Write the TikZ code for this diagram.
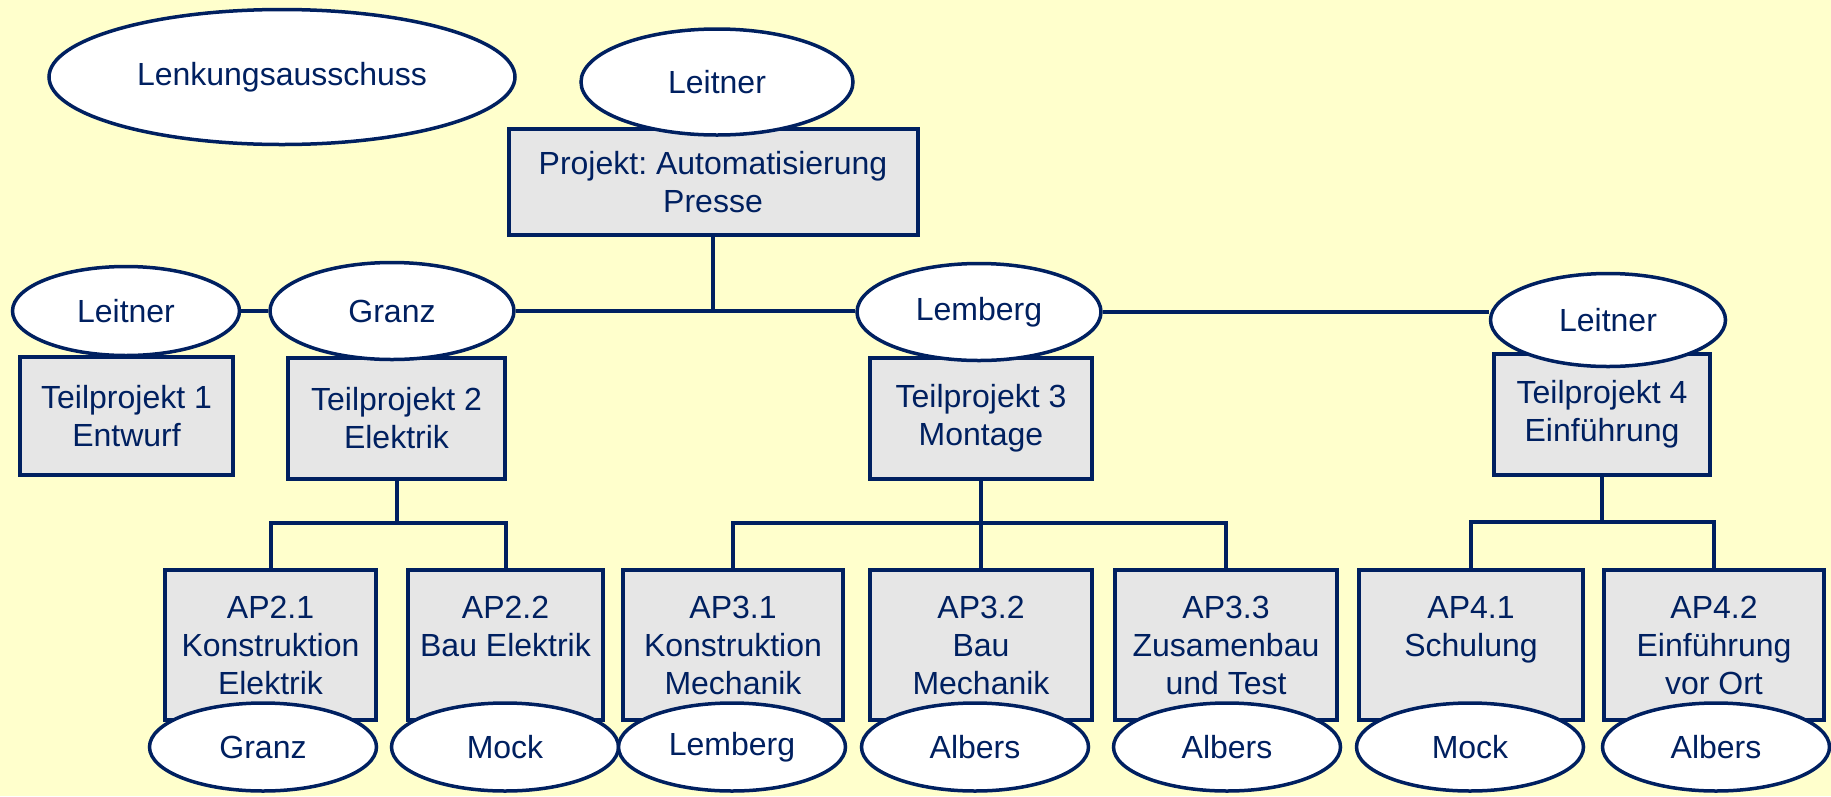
\documentclass[tikz,border=0pt]{standalone}
\usepackage{fontspec}
\setmainfont{Liberation Sans}
\usepackage{tikz}
\usetikzlibrary{shapes.geometric, positioning, calc}
\definecolor{mynavy}{RGB}{0,32,96}
\definecolor{boxgray}{RGB}{230,230,230}
\definecolor{paper}{RGB}{255,255,204}
\tikzset{
  pbox/.style={rectangle, draw=mynavy, fill=boxgray, text=mynavy,
    align=center, inner sep=0pt, line width=4pt},
  pers/.style={ellipse, draw=mynavy, fill=white, text=mynavy,
    inner sep=0pt, line width=3.5pt,
    minimum width=227pt, minimum height=88pt},
  wh/.style 2 args={minimum width=#1, minimum height=#2},
  link/.style={draw=mynavy, line width=4pt}
}
\frenchspacing

\begin{document}
\begin{tikzpicture}[x=1pt, y=-1pt, font=\fontsize{32}{38}\selectfont]
  \fill[paper] (0,0) rectangle (1831,796);
  \useasboundingbox (0,0) rectangle (1831,796);

  % Steering committee
  \node[pers, wh={466pt}{135pt}] (lenk) at (282,77) {Lenkungsausschuss};

  % Project (top)
  \node[pbox, wh={409pt}{106pt}] (proj) at (713,182) {Projekt: Automatisierung\\Presse};
  \node[pers, wh={272pt}{106pt}] (pl) at (717,82) {Leitner};

  % Subprojects
  \node[pbox, wh={213pt}{118pt}] (tp1) at (126.5,416) {Teilprojekt 1\\Entwurf};
  \node[pbox, wh={217pt}{121pt}] (tp2) at (396.5,418.5) {Teilprojekt 2\\Elektrik};
  \node[pbox, wh={222pt}{121pt}] (tp3) at (981,418.5) {Teilprojekt 3\\Montage};
  \node[pbox, wh={216pt}{121pt}] (tp4) at (1602,414.5) {Teilprojekt 4\\Einführung};
  \node[pers, wh={227pt}{89pt}] (tl1) at (126,311) {Leitner};
  \node[pers, wh={244pt}{97pt}] (tl2) at (392,311) {Granz};
  \node[pers, wh={244pt}{97pt}] (tl3) at (979,312) {Lemberg};
  \node[pers, wh={235pt}{93pt}] (tl4) at (1608,320) {Leitner};

  \draw[link] (proj.south) -- (proj.south |- tl2.east);
  \draw[link] (tl1.east) -- (tl2.west);
  \draw[link] (tl2.east) -- (tl2.east -| tl3.west);
  \draw[link] (tl3.east) -- (tl3.east -| tl4.west);

  % Work packages
  \node[pbox, wh={211pt}{150pt}] (ap21) at (270.5,645) {AP2.1\\Konstruktion\\Elektrik};
  \node[pbox, wh={195pt}{150pt}] (ap22) at (505.5,645) {AP2.2\\Bau Elektrik\\\mbox{}};
  \node[pbox, wh={220pt}{150pt}] (ap31) at (733,645) {AP3.1\\Konstruktion\\Mechanik};
  \node[pbox, wh={222pt}{150pt}] (ap32) at (981,645) {AP3.2\\Bau\\Mechanik};
  \node[pbox, wh={222pt}{150pt}] (ap33) at (1226,645) {AP3.3\\Zusamenbau\\und Test};
  \node[pbox, wh={224pt}{150pt}] (ap41) at (1471,645) {AP4.1\\Schulung\\\mbox{}};
  \node[pbox, wh={220pt}{150pt}] (ap42) at (1714,645) {AP4.2\\Einführung\\vor Ort};

  \node[pers] (al21) at (263,747) {Granz};
  \node[pers] (al22) at (505,747) {Mock};
  \node[pers] (al31) at (732,747) {Lemberg};
  \node[pers] (al32) at (975,747) {Albers};
  \node[pers] (al33) at (1227,747) {Albers};
  \node[pers] (al41) at (1470,747) {Mock};
  \node[pers] (al42) at (1716,747) {Albers};

  \draw[link] (tp2.south) -- ++(0,42) coordinate (b2);
  \draw[link] (ap21.north) |- (b2) -| (ap22.north);
  \draw[link] (tp3.south) -- ++(0,42) coordinate (b3);
  \draw[link] (ap31.north) |- (b3) -| (ap33.north);
  \draw[link] (b3) -- (ap32.north);
  \draw[link] (tp4.south) -- ++(0,45) coordinate (b4);
  \draw[link] (ap41.north) |- (b4) -| (ap42.north);
\end{tikzpicture}
\end{document}
